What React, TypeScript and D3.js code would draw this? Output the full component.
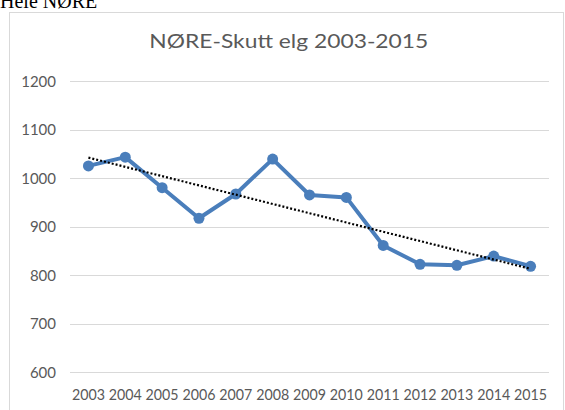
import React from "react";
import * as d3 from "d3";

const years = ["2003","2004","2005","2006","2007","2008","2009","2010","2011","2012","2013","2014","2015"];
const values = [1025, 1043, 980, 917, 967, 1039, 965, 960, 861, 822, 820, 839, 818];
const yTicks = [600, 700, 800, 900, 1000, 1100, 1200];
const title = "NØRE-Skutt elg 2003-2015";
const heading = "Hele NØRE";

export default function App() {
  const W = 565, H = 410;
  const left = 70, right = 549, top = 81, bottom = 372;
  const x = d3.scaleBand<string>().domain(years).range([left, right]).padding(0);
  const y = d3.scaleLinear().domain([600, 1200]).range([bottom, top]);
  const cx = (yr: string) => (x(yr) as number) + x.bandwidth() / 2;

  const line = d3.line<number>().x((_, i) => cx(years[i])).y((v) => y(v));

  // linear trendline (least squares) as Excel draws it
  const n = values.length;
  const xs = values.map((_, i) => i);
  const mx = d3.mean(xs) as number;
  const my = d3.mean(values) as number;
  const sxy = d3.sum(xs, (xi, i) => (xi - mx) * (values[i] - my));
  const sxx = d3.sum(xs, (xi) => (xi - mx) ** 2);
  const slope = sxy / sxx;
  const icpt = my - slope * mx;
  const trend = [icpt, icpt + slope * (n - 1)];

  const font = "Lato, 'Open Sans', sans-serif";
  const grey = "#595959";

  return (
    <svg width={W} height={H} style={{ position: "absolute", left: 0, top: 0, background: "#fff" }}>
      <rect x={0} y={0} width={W} height={H} fill="#fff" />
      <text x={0} y={8} fontFamily="'Liberation Serif', 'Times New Roman', serif" fontSize={20} fill="#000">{heading}</text>
      <rect x={9.5} y={12.5} width={554} height={420} fill="#fff" stroke="#d9d9d9" strokeWidth={1} />
      <text x={288.8} y={48.3} textAnchor="middle" fontFamily={font} fontSize={19} fill={grey} textLength={279} lengthAdjust="spacingAndGlyphs">{title}</text>
      {yTicks.map((t) => (
        <g key={t}>
          <line x1={left} x2={right} y1={Math.round(y(t)) + 0.5} y2={Math.round(y(t)) + 0.5} stroke="#d9d9d9" strokeWidth={1} />
          <text x={56} y={y(t) + 5.5} textAnchor="end" fontFamily={font} fontSize={15} fill={grey}>{t}</text>
        </g>
      ))}
      {years.map((yr) => (
        <text key={yr} x={cx(yr)} y={399.5} textAnchor="middle" fontFamily={font} fontSize={15} fill={grey} textLength={33} lengthAdjust="spacingAndGlyphs">{yr}</text>
      ))}
      <path d={line(values) || ""} fill="none" stroke="#4a7ebb" strokeWidth={4} strokeLinejoin="round" strokeLinecap="round" />
      {values.map((v, i) => (
        <circle key={i} cx={cx(years[i])} cy={y(v)} r={5.5} fill="#4a7ebb" />
      ))}
      <line x1={cx(years[0])} y1={y(trend[0])} x2={cx(years[n - 1])} y2={y(trend[1])} stroke="#000" strokeWidth={2.2} strokeDasharray="2 2" />
    </svg>
  );
}
